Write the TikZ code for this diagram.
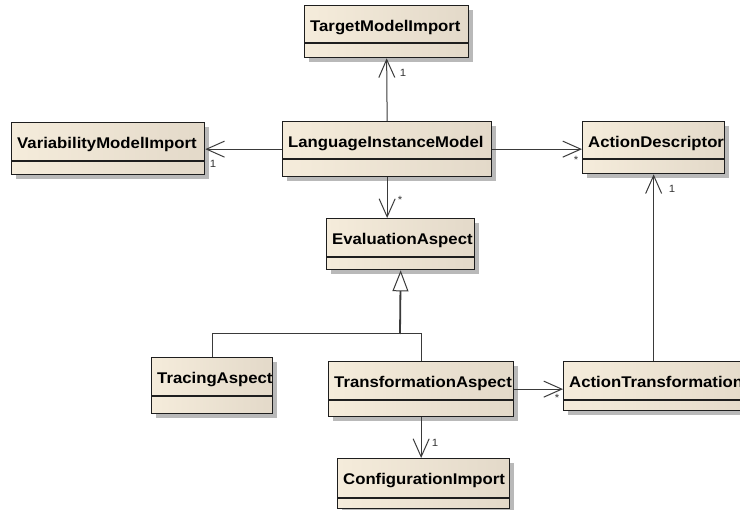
\documentclass[tikz,border=0pt]{standalone}
\usepackage{fontspec}
\setmainfont{Liberation Sans}[FakeStretch=1.08]
\usetikzlibrary{shadows,arrows.meta}
\definecolor{creamL}{HTML}{F5ECDB}
\definecolor{creamM}{HTML}{F9F2E6}
\definecolor{creamR}{HTML}{E3D9C9}
\definecolor{edgec}{HTML}{1E1E1E}
\definecolor{linec}{HTML}{3A3A3A}
\tikzset{
  cls/.style={draw=edgec, line width=1.3pt, anchor=north west, inner sep=0pt,
    left color=creamL, middle color=creamM, right color=creamR,
    drop shadow={shadow xshift=4pt, shadow yshift=-4pt, fill=black!30, opacity=0.9}},
  divline/.style={draw=edgec, line width=1.2pt},
  clstext/.style={anchor=base west, inner sep=0pt, font=\bfseries\fontsize{15.5}{18}\selectfont, text=black},
  conn/.style={draw=linec, line width=1pt},
  nav/.style={conn, -{Straight Barb[length=18pt,width=16pt,line width=1pt]}},
  gen/.style={draw=linec, line width=1.8pt, -{Triangle[open, length=21pt, width=16pt, line width=1pt, fill=white]}},
  mult/.style={inner sep=0pt, font=\fontsize{10.5}{12}\selectfont, text=black!80},
}
\newcommand\umlclass[7]{%
  \node[cls, minimum width=#4pt, minimum height=#5pt] (#1) at (#2,#3) {};
  \draw[divline] ([yshift=-#6pt]#1.north west) -- ([yshift=-#6pt]#1.north east);
  \node[clstext] (#1-t) at ([xshift=6pt,yshift=-27pt]#1.north west) {#7};
}
\begin{document}
\begin{tikzpicture}[x=1pt,y=-1pt]
\useasboundingbox[fill=white] (0,0) rectangle (740,510);
\umlclass{tmi}{304}{5}{164}{52}{38}{TargetModelImport}
\umlclass{vmi}{11}{122}{193}{52}{39}{VariabilityModelImport}
\umlclass{lim}{282}{121}{209}{55}{38}{LanguageInstanceModel}
\umlclass{ad}{582}{121}{142}{52}{38}{ActionDescriptor}
\umlclass{ea}{326}{218}{148}{51}{39}{EvaluationAspect}
\umlclass{tr}{151}{357}{121}{56}{39}{TracingAspect}
\umlclass{ta}{328}{361}{185}{55}{39}{TransformationAspect}
\umlclass{at}{563}{361}{200}{49}{39}{ActionTransformation}
\umlclass{ci}{337}{458}{172}{50}{40}{ConfigurationImport}
% associations
\draw[nav] (lim.north) -- (tmi.south);
\draw[nav] (lim.west) -- (lim.west -| vmi.east);
\draw[nav] (lim.east) -- (lim.east -| ad.west);
\draw[nav] (lim.south) -- (lim.south |- ea.north);
\draw[nav] (ad.south |- at.north) -- (ad.south);
\draw[nav] (ta.east) -- (ta.east -| at.west);
\draw[nav] (ta.south) -- (ta.south |- ci.north);
% generalization
\coordinate (gj) at (400,334);
\draw[conn] (tr.north) |- (gj);
\draw[conn] (ta.north) |- (gj);
\draw[gen] (gj) -- (ea.south);
% multiplicities
\node[mult] (m1) at (403,73) {1};
\node[mult] (m2) at (213,164) {1};
\node[mult] (m3) at (576,160) {*};
\node[mult] (m4) at (400,200) {*};
\node[mult] (m5) at (672,189) {1};
\node[mult] (m6) at (557,398) {*};
\node[mult] (m7) at (435,443) {1};
\end{tikzpicture}
\end{document}
